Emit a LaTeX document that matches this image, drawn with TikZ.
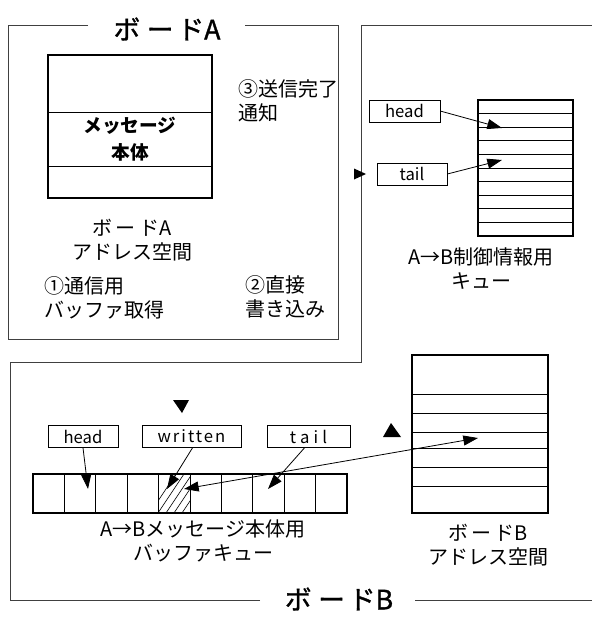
\documentclass[tikz,border=0pt]{standalone}
\usepackage{fontspec}
\setmainfont{Noto Sans CJK JP}
\usetikzlibrary{arrows.meta,calc}
\tikzset{
  frame/.style={line width=0.5pt, draw=black!75},
  box/.style={draw, line width=1.1pt},
  thin/.style={line width=0.5pt},
  ptrbox/.style={draw, line width=0.5pt, inner sep=0pt, minimum height=16.5pt, font=\fontsize{12.5}{12}\selectfont},
  tip/.tip={Triangle[length=11pt,width=7.5pt]},
  ptrarrow/.style={line width=0.6pt, -tip},
  lbl/.style={font=\fontsize{15}{18}\selectfont, align=center, inner sep=0pt},
  title/.style={font=\fontsize{20}{20}\selectfont\addfontfeatures{FakeBold=1.2}, inner sep=0pt},
}
\begin{document}
\begin{tikzpicture}[x=0.75pt,y=-0.75pt]
\useasboundingbox (0,0) rectangle (592,617);
% ---------- Board A frame ----------
\node[title] (tA) at (167,29) {ボ\hspace{5pt}ー\hspace{3pt}ドA};
\draw[frame] (88,25) -- (8,25) -- (8,339) -- (338,339) -- (338,25) -- (245,25);
% ---------- Board B frame ----------
\node[title] (tB) at (339,599) {ボ\hspace{5pt}ー\hspace{3pt}ドB};
\draw[frame] (260,600) -- (10,600) -- (10,362) -- (361,362) -- (361,25) -- (592,25);
\draw[frame] (415,600) -- (592,600);

% ---------- Board A memory ----------
\draw[box] (48,55) rectangle (212,198);
\draw[thin] (48,112) -- (212,112);
\draw[thin] (48,166) -- (212,166);
\node[lbl, font=\fontsize{14}{20}\selectfont\bfseries] (msg) at (130,139) {メッセージ\\本体};
\node[lbl] (addrA) at (132,240) {ボ\,ー\,ドA\\アドレス空間};
\node[lbl, align=left, anchor=west] (s1) at (44,298) {①通信用\\バッファ取得};
\node[lbl, align=left, anchor=west] (s3) at (238,101) {③送信完了\\通知};
\node[lbl, align=left, anchor=west] (s2) at (245,297) {②直接\\書き込み};

% ---------- control queue ----------
\draw[box] (478,100) rectangle (573,236);
\foreach \i in {1,...,9} \draw[thin] (478,{100+13.6*\i}) -- (573,{100+13.6*\i});
\node[ptrbox, minimum width=53pt] (hR) at (404.5,111) {head};
\node[ptrbox, minimum width=52.5pt] (tR) at (412,174) {tail};
\coordinate (qh) at (502,128);
\coordinate (qt) at (502,160);
\draw[ptrarrow] (hR.east) -- (qh);
\draw[ptrarrow] (tR.east) -- (qt);
\fill (354,168.5) -- (354,179.5) -- (366,174) -- cycle;
\node[lbl] (cq) at (481,269) {A→B制御情報用\\キュー};

% ---------- buffer queue ----------
\begin{scope}
  \clip (158,474) rectangle (190,513);
  \foreach \k in {0,...,8} \draw[thin] ({150+8*\k},513) -- ++(30,-45);
\end{scope}
\draw[box] (33,474) rectangle (347,513);
\foreach \i in {1,...,9} \draw[thin] ({33+31.4*\i},474) -- ({33+31.4*\i},513);
\node[ptrbox, minimum width=52.5pt] (hB) at (83,436.5) {head};
\node[ptrbox, minimum width=74pt] (wB) at (191.5,436.5) {\addfontfeatures{LetterSpace=12}written};
\node[ptrbox, minimum width=62pt] (tBx) at (308.5,436.5) {\addfontfeatures{LetterSpace=25}tail};
\coordinate (bh) at (88,489);
\coordinate (bw) at (167,489);
\coordinate (bt) at (268,489);
\coordinate (bx) at (184,489);
\draw[ptrarrow] (hB.south) -- (bh);
\draw[ptrarrow] ($(wB.south)+(1,0)$) -- (bw);
\draw[ptrarrow] ($(tBx.south)+(-4,0)$) -- (bt);
\fill (173,400) -- (189,400) -- (182,413) -- cycle;
\node[lbl] (bq) at (203,541) {A→Bメッセージ本体用\\バッファキュー};

% ---------- Board B memory ----------
\draw[box] (412,355) rectangle (548,513);
\foreach \y in {394,413,432,448,467,486} \draw[thin] (412,\y) -- (548,\y);
\coordinate (mb) at (478,438);
\draw[line width=0.6pt, tip-tip] (bx) -- (mb);
\fill (383,437) -- (401,437) -- (391,423) -- cycle;
\node[lbl] (addrB) at (488,545) {ボ\,ー\,ドB\\アドレス空間};
\end{tikzpicture}
\end{document}
